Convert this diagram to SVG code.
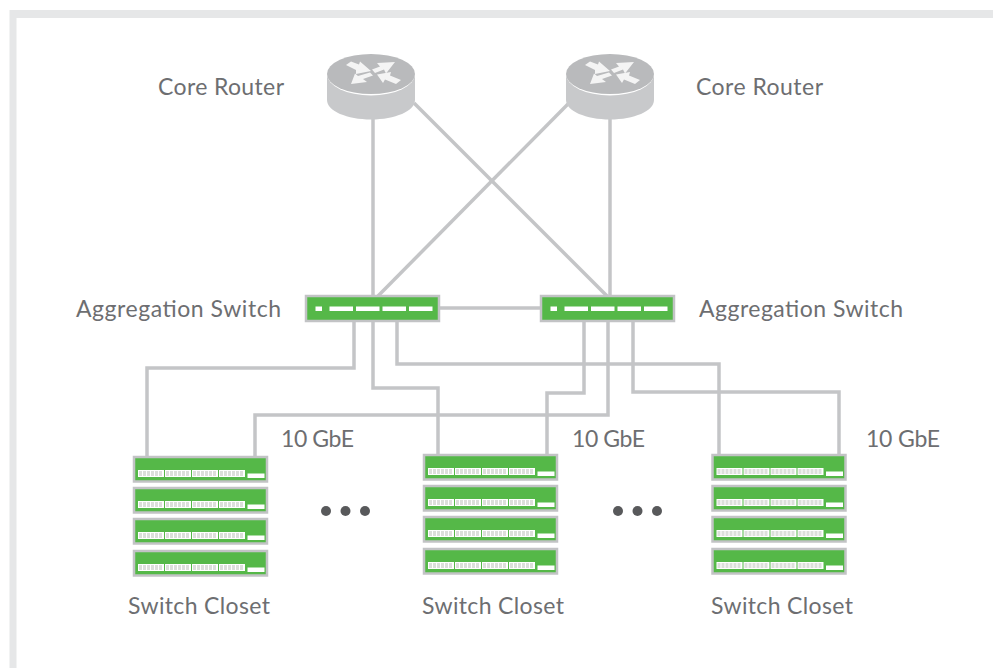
<svg xmlns="http://www.w3.org/2000/svg" width="993" height="668" viewBox="0 0 993 668">
<style>
text{font-family:"Lato","Liberation Sans",sans-serif;font-size:23px;fill:#6d6e71}
.c{fill:none;stroke:#c4c5c7;stroke-width:3.500}
.sw{fill:#55b848;stroke:#c2c3c5;stroke-width:2.500}
.w{fill:#fff}
.h{fill:none;stroke:#dcdfdb;stroke-width:5;stroke-dasharray:3 1}
.d{fill:#58595b}
.ar{fill:#f4f4f4}
</style>
<defs>
<g id="router">
<path d="M-44 20V46C-44 57-24 65.500 0 65.500S44 57 44 46V20Z" fill="#c8c9cb"/>
<ellipse cx="0" cy="20" rx="44" ry="21.500" fill="#fff"/>
<ellipse cx="0" cy="20" rx="44" ry="20" fill="#b9babc"/>
<path class="ar" d="M-25 11L-20 7.500L-12 10.500L-11 7.500L0 17L-15 20L-15 16Z"/>
<path class="ar" d="M24 8L6 9L9 12.500L1 15.500L4 19L13 15.500L15 19.500Z"/>
<path class="ar" d="M-20 30L-16 19.500L-13 22L-1 18.500L2 21.500L-8 25L-4 28Z"/>
<path class="ar" d="M6 20.500L20 18L19 21.500L30 26L25 30L14 25.500L12 29Z"/>
</g>
<g id="agg">
<rect class="sw" x="0" y="0" width="133" height="25"/>
<rect class="w" x="9.500" y="10.500" width="6.500" height="4.500"/>
<rect class="w" x="23.500" y="10.500" width="23.500" height="4.500"/>
<rect class="w" x="50" y="10.500" width="23.500" height="4.500"/>
<rect class="w" x="76.500" y="10.500" width="23.500" height="4.500"/>
<rect class="w" x="103" y="10.500" width="23.500" height="4.500"/>
</g>
<g id="port">
<rect class="w" x="0" y="0" width="26" height="7"/>
<path class="h" d="M1 3.500H25"/>
</g>
<g id="unit">
<rect class="sw" x="0" y="0" width="133" height="24.500"/>
<use href="#port" x="4" y="13"/>
<use href="#port" x="31" y="13"/>
<use href="#port" x="58" y="13"/>
<use href="#port" x="85" y="13"/>
<rect class="w" x="113.500" y="16.500" width="17" height="4.500"/>
</g>
<g id="stack">
<use href="#unit" y="0"/>
<use href="#unit" y="31"/>
<use href="#unit" y="62"/>
<use href="#unit" y="94"/>
</g>
</defs>
<path d="M9.500 668V10H993V18H16.500V668Z" fill="#e6e7e8"/>
<g id="connectors">
<path class="c" d="M373 118V296"/>
<path class="c" d="M414 103L607 296"/>
<path class="c" d="M568 104L378 296"/>
<path class="c" d="M610 118V296"/>
<path class="c" d="M439 308H541"/>
<path class="c" d="M354 321V368H147V457"/>
<path class="c" d="M373 321V388H438V455"/>
<path class="c" d="M397 321V364H719V455"/>
<path class="c" d="M584 321V393H547V455"/>
<path class="c" d="M608 321V415H255V457"/>
<path class="c" d="M633 321V392H839V455"/>
</g>
<g id="router-1"><use href="#router" x="371" y="54"/><text x="158" y="95" textLength="126">Core Router</text></g>
<g id="router-2"><use href="#router" x="610" y="54"/><text x="696" y="95" textLength="127">Core Router</text></g>
<g id="agg-1"><use href="#agg" x="306" y="296"/><text x="76" y="317" textLength="205">Aggregation Switch</text></g>
<g id="agg-2"><use href="#agg" x="541" y="296"/><text x="699" y="317" textLength="204">Aggregation Switch</text></g>
<g id="closet-1"><use href="#stack" x="134" y="457"/><text x="128" y="614" textLength="142">Switch Closet</text><text x="281" y="447" textLength="73">10 GbE</text></g>
<g id="closet-2"><use href="#stack" x="424" y="455"/><text x="422" y="614" textLength="142">Switch Closet</text><text x="572" y="447" textLength="73">10 GbE</text></g>
<g id="closet-3"><use href="#stack" x="712.500" y="455"/><text x="711" y="614" textLength="142">Switch Closet</text><text x="866" y="447" textLength="74">10 GbE</text></g>
<g id="dots-1"><circle class="d" cx="326" cy="511" r="5"/><circle class="d" cx="345.500" cy="511" r="5"/><circle class="d" cx="365" cy="511" r="5"/></g>
<g id="dots-2"><circle class="d" cx="618" cy="511" r="5"/><circle class="d" cx="637.500" cy="511" r="5"/><circle class="d" cx="657" cy="511" r="5"/></g>
</svg>
